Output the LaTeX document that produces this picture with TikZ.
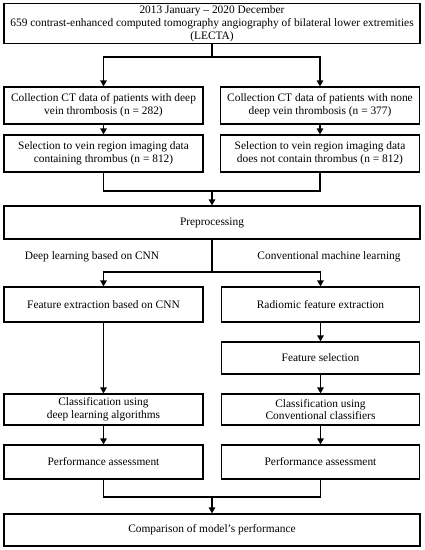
\documentclass[tikz,border=0pt]{standalone}
\usepackage{fontspec}
\setmainfont{Liberation Serif}
\usetikzlibrary{arrows.meta}
\tikzset{
  box/.style={draw, line width=1.2pt, align=center, inner sep=1pt, font=\fontsize{11.4}{12.8}\selectfont},
  lbl/.style={font=\fontsize{11.4}{12.8}\selectfont},
  arr/.style={line width=1.2pt, -{Triangle[length=6pt,width=6.5pt]}},
  ln/.style={line width=1.2pt}
}
\begin{document}
\begin{tikzpicture}[x=1pt,y=-1pt]
			\useasboundingbox (0,0) rectangle (425,550);
			
			% Boxes
			\node[box, minimum width=416pt, minimum height=40pt] (data) at (212,23.5)
			  {2013 January -- 2020 December\\659 contrast-enhanced computed tomography angiography of bilateral lower extremities\\(LECTA)};
			\node[box, minimum width=199pt, minimum height=37pt] (dvt) at (103.5,105.5)
			  {Collection CT data of patients with deep\\vein thrombosis (n = 282)};
			\node[box, minimum width=199pt, minimum height=37pt] (nodvt) at (320,105.5)
			  {Collection CT data of patients with none\\deep vein thrombosis (n = 377)};
			\node[box, minimum width=199pt, minimum height=37pt] (sel1) at (103.5,153.5)
			  {Selection to vein region imaging data\\containing thrombus (n = 812)};
			\node[box, minimum width=199pt, minimum height=37pt] (sel2) at (320,153.5)
			  {Selection to vein region imaging data\\does not contain thrombus (n = 812)};
			\node[box, minimum width=416pt, minimum height=33pt] (pre) at (212,222.5) {Preprocessing};
			\node[box, minimum width=199pt, minimum height=35pt] (cnnfe) at (103.5,304.5) {Feature extraction based on CNN};
			\node[box, minimum width=198pt, minimum height=35pt] (radfe) at (320.5,304.5) {Radiomic feature extraction};
			\node[box, minimum width=198pt, minimum height=32pt] (fsel) at (320.5,358) {Feature selection};
			\node[box, minimum width=199pt, minimum height=31pt] (cls1) at (103.5,409.5)
			  {Classification using\\deep learning algorithms};
			\node[box, minimum width=198pt, minimum height=31pt] (cls2) at (320.5,409.5)
			  {Classification using\\Conventional classifiers};
			\node[box, minimum width=199pt, minimum height=34pt] (perf1) at (103.5,462) {Performance assessment};
			\node[box, minimum width=198pt, minimum height=34pt] (perf2) at (320.5,462) {Performance assessment};
			\node[box, minimum width=416pt, minimum height=32pt] (cmp) at (212,530) {Comparison of model’s performance};
			
			% Branch labels
			\node[lbl] (dl) at (92,257) {Deep learning based on CNN};
			\node[lbl] (ml) at (329,257) {Conventional machine learning};
			
			% Junctions
			\coordinate (j1) at (212,57);
			\coordinate (j2) at (212,191);
			\coordinate (j3) at (212,272);
			\coordinate (j4) at (212,497);
			
			% Connectors
			\draw[ln] (data.south) -- (j1);
			\draw[arr] (j1) -| (dvt.north);
			\draw[arr] (j1) -| (nodvt.north);
			\draw[arr] (dvt) -- (sel1);
			\draw[arr] (nodvt) -- (sel2);
			\draw[ln] (sel1.south) |- (j2) -| (sel2.south);
			\draw[arr] (j2) -- (pre.north);
			\draw[ln] (pre.south) -- (j3);
			\draw[arr] (j3) -| (cnnfe.north);
			\draw[arr] (j3) -| (radfe.north);
			\draw[arr] (cnnfe) -- (cls1);
			\draw[arr] (radfe) -- (fsel);
			\draw[arr] (fsel) -- (cls2);
			\draw[arr] (cls1) -- (perf1);
			\draw[arr] (cls2) -- (perf2);
			\draw[ln] (perf1.south) |- (j4) -| (perf2.south);
			\draw[arr] (j4) -- (cmp.north);
\end{tikzpicture}
\end{document}
